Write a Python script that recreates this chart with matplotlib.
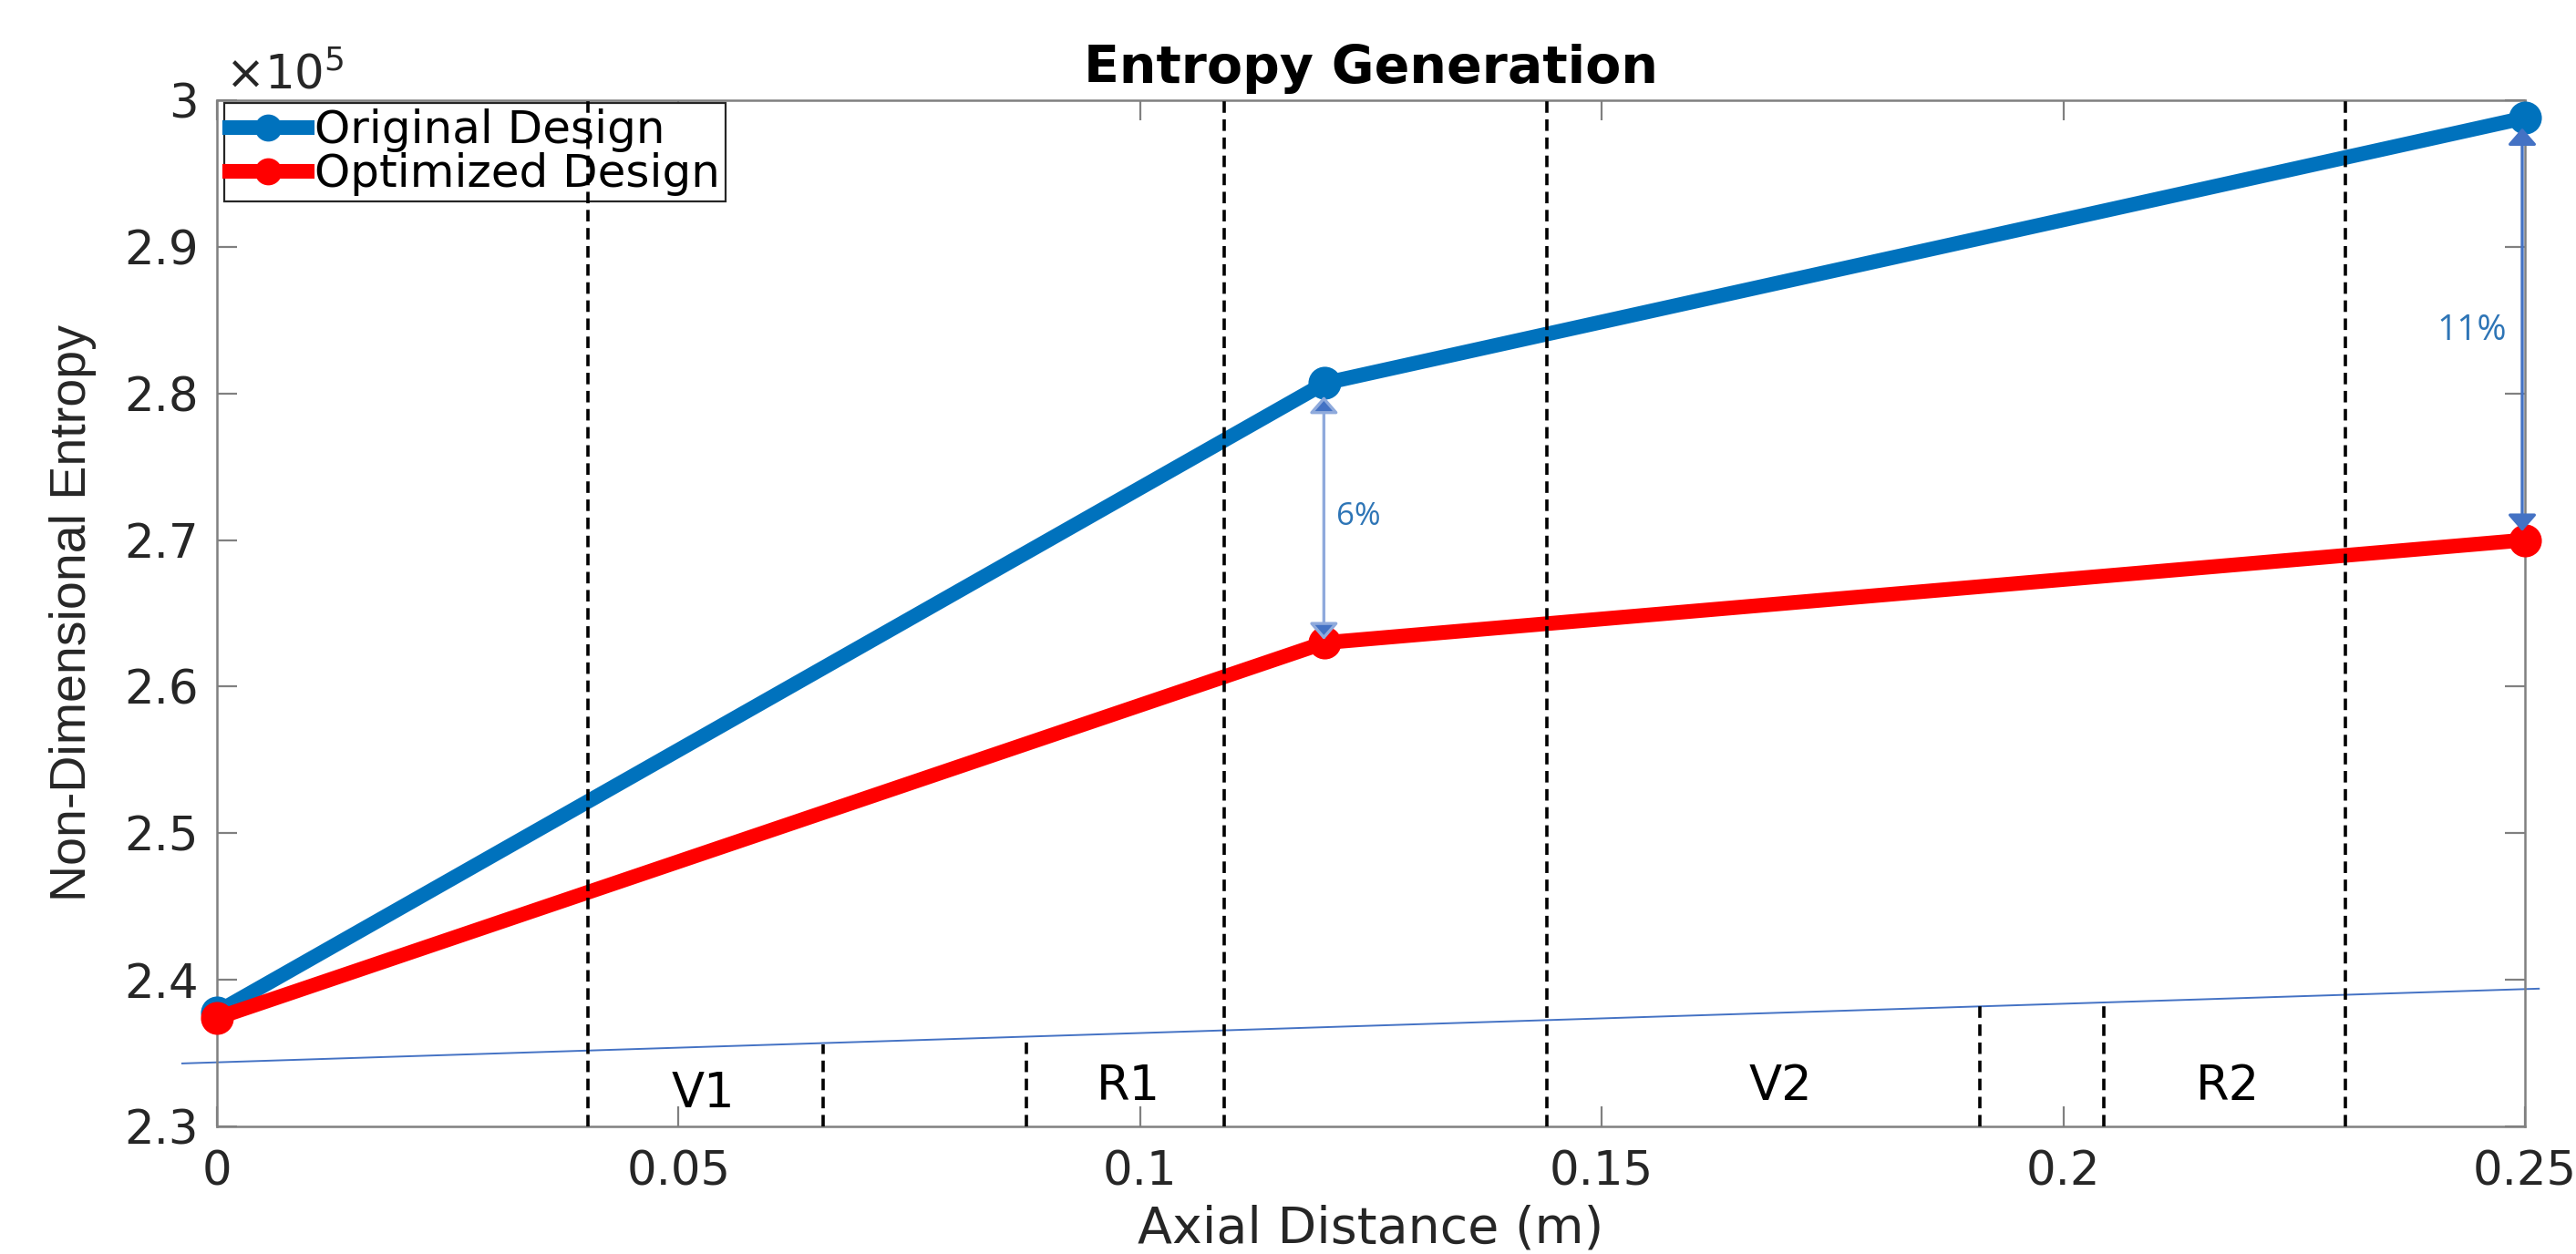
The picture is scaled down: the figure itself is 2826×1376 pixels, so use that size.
import numpy as np
import matplotlib
matplotlib.use("Agg")
import matplotlib.pyplot as plt
from matplotlib.ticker import FuncFormatter

# data
x_pts = [0.0, 0.12, 0.25]
original = [2.378e5, 2.807e5, 2.988e5]
optimized = [2.374e5, 2.630e5, 2.700e5]

# stage boundaries (full height) and short boundaries under the thin line
full_bounds = [0.0402, 0.1091, 0.1441, 0.2305]
short_bounds = [0.0657, 0.0877, 0.1910, 0.2044]
short_tops = [2.356e5, 2.360e5, 2.382e5, 2.385e5]

# thin reference line
ref_x = [-0.00375, 0.2515]
ref_y = [2.343e5, 2.394e5]

# stage labels
stage_names = ['V1', 'R1', 'V2', 'R2']
stage_x = [0.0527, 0.0987, 0.1694, 0.2178]
stage_y = [2.3133e5, 2.3182e5, 2.3182e5, 2.3182e5]

# percentage gap annotations
gap_x = [0.1199, 0.2497]
gap_top = [2.798e5, 2.981e5]
gap_bot = [2.632e5, 2.706e5]
gap_text = ['6%', '11%']
gap_text_xy = [(0.1212, 2.716e5), (0.2480, 2.843e5)]

xticks = [0, 0.05, 0.1, 0.15, 0.2, 0.25]
yticks = np.arange(2.3e5, 3.0e5 + 1, 1e4)

BLUE = '#0072BD'
RED = '#FF0000'
AXC = '#808080'
TXT = '#262626'

plt.rcParams['font.family'] = ['DejaVu Sans']

fig = plt.figure(figsize=(14.13, 6.88), dpi=200)
ax = fig.add_axes([0.0842, 0.1017, 0.8960, 0.8184])

ax.plot(x_pts, original, '-o', color=BLUE, lw=5.8, ms=12, clip_on=False,
        zorder=3, label='Original Design')
ax.plot(x_pts, optimized, '-o', color=RED, lw=5.8, ms=12, clip_on=False,
        zorder=3, label='Optimized Design')

ax.plot(ref_x, ref_y, color='#4472C4', lw=0.7, clip_on=False, zorder=2)

for xb in full_bounds:
    ax.axvline(xb, color='black', lw=1.3, linestyle=(0, (3.5, 2)), zorder=6)
ax.vlines(short_bounds, 2.3e5, short_tops, color='black', lw=1.3,
          linestyle=(0, (3.5, 2)), zorder=6)

for name, sx, sy in zip(stage_names, stage_x, stage_y):
    ax.text(sx, sy, name, ha='center', va='baseline', fontsize=19, color='black')

shaft_cols = ['#8FAADC', '#4472C4']
for gx, gt, gb, sc in zip(gap_x, gap_top, gap_bot, shaft_cols):
    ann = ax.annotate('', xy=(gx, gt), xytext=(gx, gb), annotation_clip=False,
                      arrowprops=dict(arrowstyle='<|-|>,head_length=0.55,head_width=0.48',
                                      fc='#4472C4', ec=sc, lw=1.2, mutation_scale=10,
                                      shrinkA=0, shrinkB=0))
    ann.arrow_patch.set_clip_on(False)

ax.text(gap_text_xy[0][0], gap_text_xy[0][1], gap_text[0], ha='left', va='center',
        fontsize=12.5, color='#2E75B6', family='Open Sans')
ax.text(gap_text_xy[1][0], gap_text_xy[1][1], gap_text[1], ha='right', va='center',
        fontsize=14, color='#2E75B6', family='Open Sans')

ax.set_xlim(0, 0.25)
ax.set_ylim(2.3e5, 3.0e5)
ax.set_xticks(xticks)
ax.set_yticks(yticks)
ax.xaxis.set_major_formatter(FuncFormatter(lambda v, p: f'{v:g}'))
ax.yaxis.set_major_formatter(FuncFormatter(lambda v, p: f'{round(v / 1e5, 2):g}'))
ax.tick_params(direction='in', top=True, right=True, length=7.9, width=0.8,
               color=AXC, labelsize=18.5, labelcolor=TXT)
ax.tick_params(axis='x', pad=9)
ax.tick_params(axis='y', pad=7.2)
for sp in ax.spines.values():
    sp.set_color(AXC)
    sp.set_linewidth(0.9)

ax.text(0.0036, 1.0107, r'$\times10^5$', transform=ax.transAxes, ha='left',
        va='baseline', fontsize=18.5, color=TXT)

ax.set_title('Entropy Generation', fontsize=20.5, fontweight='bold', y=1.0169, pad=0)

ax.set_xlabel('Axial Distance (m)', fontsize=20, color=TXT)
ax.xaxis.label.set_va('baseline')
ax.xaxis.set_label_coords(0.5, -0.1128)
ax.set_ylabel('Non-Dimensional Entropy', fontsize=20, color=TXT, family='Liberation Sans')
ax.yaxis.set_label_coords(-0.052, 0.5)

leg = ax.legend(loc='upper left', bbox_to_anchor=(0.003, 0.997), borderaxespad=0,
                fontsize=18, frameon=True, fancybox=False, framealpha=1,
                edgecolor=TXT, handlelength=1.7, handletextpad=0.17,
                borderpad=0.12, labelspacing=0.0)
leg.get_frame().set_linewidth(0.8)
for h in leg.legend_handles:
    h.set_markersize(9.7)

fig.savefig('out.png', dpi=200)
